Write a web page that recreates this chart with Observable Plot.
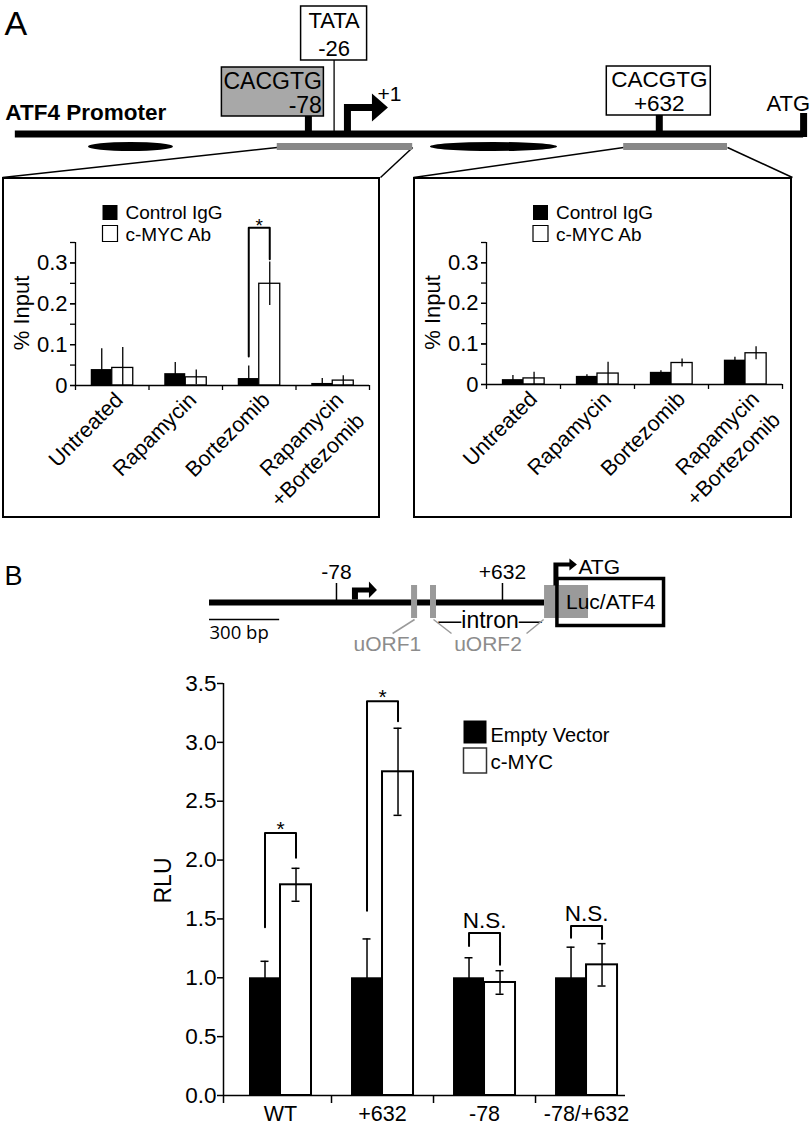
<!DOCTYPE html>
<html>
<head>
<meta charset="utf-8">
<script src="https://cdn.jsdelivr.net/npm/d3@7"></script>
<script src="https://cdn.jsdelivr.net/npm/@observablehq/plot@0.6"></script>
<style>
html, body { margin: 0; padding: 0; background: #fff; }
#fig { position: relative; width: 812px; height: 1127px; overflow: hidden; background: #fff;
       font-family: "Liberation Sans", Arial, Helvetica, sans-serif; }
.box { position: absolute; box-sizing: border-box; border: 2px solid #000; }
</style>
</head>
<body>
<div id="fig"></div>
<script>
// ======================= DATA =======================
// Panel A – ATF4 promoter schematic (bp relative to the TSS, +1)
const promoterStart = -671;
const promoterATG = 924;
const eboxSites = [-78, 632];            // CACGTG E-boxes
const eboxMotif = "CACGTG";
const tataSite = -26;
const tssSite = 1;
const nucleosomeStart = [-523, 169];
const nucleosomeEnd = [-351, 426];
const ampliconStart = [-141, 560];       // ChIP amplicons (grey bars)
const ampliconEnd = [133, 770];

// Panel A – ChIP (% input)
const chipTreatments = ["Untreated", "Rapamycin", "Bortezomib", "Rapamycin\n+Bortezomib"];
const chipSeries = ["Control IgG", "c-MYC Ab"];
// amplicon around the -78 E-box
const promIgG    = [0.039, 0.029, 0.017, 0.005];
const promIgGErr = [0.051, 0.027, 0.031, 0.012];
const promMyc    = [0.043, 0.020, 0.249, 0.012];
const promMycErr = [0.050, 0.018, 0.053, 0.012];
const promBracket = {group: 2, left: 0.071, top: 0.386, right: 0.309, label: "*"};
// amplicon around the +632 E-box
const intrIgG    = [0.012, 0.020, 0.030, 0.060];
const intrIgGErr = [0.010, 0.004, 0.004, 0.007];
const intrMyc    = [0.015, 0.027, 0.053, 0.077];
const intrMycErr = [0.015, 0.028, 0.010, 0.016];
const chipTickLabels = [0, 0.1, 0.2, 0.3];
const chipTicks = [0, 0.05, 0.1, 0.15, 0.2, 0.25, 0.3, 0.35];

// Panel B – reporter schematic (bp)
const reporterStart = -621;
const reporterSites = [-78, 632];
const reporterTSS = 1;
const uorfMarks = [256, 337];
const exonBlockStart = 812, exonBlockEnd = 1000;
const lucStart = 867, lucEnd = 1323;
const lucLabel = "Luc/ATF4";
const scaleBarBp = 300;
const uorfNames = ["uORF1", "uORF2"];
const uorfLabelAt = [140, 570];
const uorfLinkFrom = [256, 337, 808];
const uorfLinkTo = [162, 414, 735];
const intronLabelAt = 579;

// Panel B – luciferase (RLU)
const rluConstructs = ["WT", "+632", "-78", "-78/+632"];
const rluSeries = ["Empty Vector", "c-MYC"];
const rluEmpty    = [1.00, 1.00, 1.00, 1.00];
const rluEmptyErr = [0.14, 0.33, 0.17, 0.26];
const rluMyc      = [1.79, 2.75, 0.96, 1.11];
const rluMycErr   = [0.14, 0.37, 0.10, 0.18];
const rluBrackets = [
  {group: 0, left: 1.43, top: 2.23, right: 2.02, label: "*"},
  {group: 1, left: 1.57, top: 3.35, right: 3.18, label: "*"},
  {group: 2, left: 1.27, top: 1.38, right: 1.11, label: "N.S."},
  {group: 3, left: 1.34, top: 1.44, right: 1.33, label: "N.S."}
];
const rluTicks = [0, 0.5, 1, 1.5, 2, 2.5, 3, 3.5];

// ======================= HELPERS =======================
const W = 812;
const FONT = '"Liberation Sans", Arial, Helvetica, sans-serif';
const fig = document.getElementById("fig");
const svgStyle = fs => ({background: "transparent", overflow: "visible", fontFamily: FONT, fontSize: fs + "px"});
function put(node, left, top) {
  node.style.position = "absolute";
  node.style.left = left + "px";
  node.style.top = top + "px";
  fig.appendChild(node);
}
function drawBox(b) {
  const d = document.createElement("div");
  d.className = "box";
  d.style.width = b.width + "px";
  d.style.height = b.height + "px";
  put(d, b.left, b.top);
}
const shape = draw => ({draw});
const fmtPos = d => (d > 0 ? "+" + d : String(d));
const rectSym = (w, h) => shape(c => c.rect(-w / 2, -h / 2, w, h));

// ======================= PANEL A SCHEMATIC =======================
const xDomA = [-701, 942];
const xA = d3.scaleLinear(xDomA, [0, W]);
const HA = 180;
const lineA = 133.5;
const boxL = {left: 2, top: 177, width: 378, height: 341};
const boxR = {left: 413, top: 177, width: 379, height: 341};
const boxes = [boxL, boxR];
const zoomLinks = [];
ampliconStart.forEach((s, i) => {
  zoomLinks.push({x1: s, x2: xA.invert(boxes[i].left)});
  zoomLinks.push({x1: ampliconEnd[i], x2: xA.invert(boxes[i].left + boxes[i].width)});
});
const tssArrowA = shape(c => {
  c.moveTo(-3.5, 0); c.lineTo(-3.5, -27); c.lineTo(24.5, -27); c.lineTo(24.5, -37.5);
  c.lineTo(40.5, -23.5); c.lineTo(24.5, -9.5); c.lineTo(24.5, -20); c.lineTo(3.5, -20);
  c.lineTo(3.5, 0); c.closePath();
});

const diagA = Plot.plot({
  width: W, height: HA, margin: 0,
  x: {domain: xDomA, range: [0, W], axis: null},
  y: {domain: [0, HA], range: [0, HA], axis: null},
  style: svgStyle(22),
  marks: [
    Plot.text(["A"], {frameAnchor: "top-left", dx: 4, dy: 10, lineAnchor: "top", fontSize: 34}),
    Plot.text(["ATF4 Promoter"], {x: promoterStart, y: 119, dx: -10, textAnchor: "start", lineAnchor: "bottom", fontWeight: "bold", fontSize: 22.5}),
    Plot.link(zoomLinks, {x1: "x1", x2: "x2", y1: 147, y2: 177, strokeWidth: 1.5}),
    Plot.rect(d3.range(ampliconStart.length), {x1: i => ampliconStart[i], x2: i => ampliconEnd[i], y1: 143, y2: 150, fill: "#888888"}),
    Plot.rect(d3.range(nucleosomeStart.length), {x1: i => nucleosomeStart[i], x2: i => nucleosomeEnd[i], y1: 142, y2: 151, rx: 200, ry: 4.5, fill: "black"}),
    Plot.ruleY([lineA], {x1: promoterStart, x2: promoterATG, strokeWidth: 7}),
    Plot.ruleX([promoterATG], {y1: 113, y2: 137, strokeWidth: 7}),
    // TATA box
    Plot.ruleX([tataSite], {y1: 60, y2: 131, strokeWidth: 1.3}),
    Plot.rect([tataSite], {x1: d => d, x2: d => d, insetLeft: -33, insetRight: -33, y1: 6, y2: 60, fill: "white", stroke: "black", strokeWidth: 1.5}),
    Plot.text([tataSite], {x: d => d, y: 55, text: d => "TATA\n" + fmtPos(d), lineAnchor: "bottom", lineHeight: 1.23, fontSize: 22}),
    // E-box stems
    Plot.ruleX(eboxSites, {y1: 115, y2: 131, strokeWidth: 7}),
    // -78 E-box (grey)
    Plot.rect([eboxSites[0]], {x1: d => d, x2: d => d, insetLeft: -86.5, insetRight: -15.5, y1: 67, y2: 116, fill: "#a8a8a8", stroke: "black", strokeWidth: 1.5}),
    Plot.text([eboxSites[0]], {x: d => d, dx: 13.5, y: 112, text: d => eboxMotif + "\n" + fmtPos(d), textAnchor: "end", lineAnchor: "bottom", lineHeight: 1.04, fontSize: 23}),
    // +632 E-box (white)
    Plot.rect([eboxSites[1]], {x1: d => d, x2: d => d, insetLeft: -52.5, insetRight: -51.5, y1: 66, y2: 115, fill: "white", stroke: "black", strokeWidth: 1.5}),
    Plot.text([eboxSites[1]], {x: d => d, y: 110, text: d => eboxMotif + "\n" + fmtPos(d), lineAnchor: "bottom", lineHeight: 1.06, fontSize: 22.5}),
    // TSS arrow
    Plot.dot([tssSite], {x: d => d, y: 130.5, symbol: tssArrowA, fill: "black", stroke: "none"}),
    Plot.text([tssSite], {x: d => d, dx: 30, y: 100, text: d => fmtPos(d), textAnchor: "start", lineAnchor: "bottom", fontSize: 21}),
    Plot.text([promoterATG], {x: d => d, dx: 6.5, y: 110, text: () => "ATG", textAnchor: "end", lineAnchor: "bottom", fontSize: 22})
  ]
});
put(diagA, 0, 0);

// ======================= PANEL A CHIP CHARTS =======================
function chipChart(igg, iggErr, myc, mycErr, bracket, lay) {
  const idx = d3.range(chipTreatments.length);
  const bw = 21 / 73.5;             // bar width in group units
  const ppu = 143 / 0.35;           // pixels per % input
  const marks = [
    Plot.rectY(idx, {x1: i => i - bw, x2: i => i, y: i => igg[i], fill: "black"}),
    Plot.rectY(idx, {x1: i => i, x2: i => i + bw, y: i => myc[i], fill: "white", stroke: "black", strokeWidth: 1.3}),
    Plot.ruleX(idx, {x: i => i - bw / 2, y1: i => Math.max(0, igg[i] - iggErr[i]), y2: i => igg[i] + iggErr[i], strokeWidth: 1.3}),
    Plot.ruleX(idx, {x: i => i + bw / 2, y1: i => Math.max(0, myc[i] - mycErr[i]), y2: i => myc[i] + mycErr[i], strokeWidth: 1.3}),
    Plot.ruleX([-0.5], {strokeWidth: 1.3}),
    Plot.ruleY([0], {strokeWidth: 1.3}),
    Plot.ruleX([-0.5, 0.5, 1.5, 2.5, 3.5], {y1: 0, y2: -5 / ppu, strokeWidth: 1.3}),
    Plot.axisY({ticks: chipTicks, tickSize: 5, tickFormat: () => "", label: null, strokeWidth: 1.3}),
    Plot.axisY({ticks: chipTickLabels, tickSize: 5, tickPadding: 3, tickFormat: d => (d === 0 ? "0" : d.toFixed(1)), label: null, fontSize: 22, strokeWidth: 1.3}),
    Plot.text(["% Input"], {frameAnchor: "left", rotate: -90, textAnchor: "middle", dx: -54, dy: -1, fontSize: 22}),
    Plot.text(idx, {x: i => i, y: 0, text: i => chipTreatments[i], rotate: -45, textAnchor: "end", lineAnchor: "top", lineHeight: 1.38, fontSize: 21.5, dx: lay.labelDx, dy: 1}),
    // legend
    Plot.dot([0], {frameAnchor: "top-left", dx: lay.legDx, dy: -30, symbol: rectSym(15, 15), fill: "black", stroke: "none"}),
    Plot.dot([0], {frameAnchor: "top-left", dx: lay.legDx, dy: -9, symbol: rectSym(15, 16), fill: "white", stroke: "black", strokeWidth: 1.2}),
    Plot.text([chipSeries[0]], {frameAnchor: "top-left", dx: lay.legDx + 15.5, dy: -24, textAnchor: "start", lineAnchor: "bottom", fontSize: 19}),
    Plot.text([chipSeries[1]], {frameAnchor: "top-left", dx: lay.legDx + 15.5, dy: -2, textAnchor: "start", lineAnchor: "bottom", fontSize: 19})
  ];
  if (bracket) {
    const g = bracket.group;
    const pts = [[g - bw / 2, bracket.left], [g - bw / 2, bracket.top], [g + bw / 2, bracket.top], [g + bw / 2, bracket.right]];
    marks.push(Plot.line(pts, {x: d => d[0], y: d => d[1], strokeWidth: 2}));
    marks.push(Plot.text([bracket], {x: d => d.group, y: d => d.top, text: d => d.label, lineAnchor: "bottom", dy: 4, fontSize: 19}));
  }
  return Plot.plot({
    width: lay.width, height: lay.height,
    marginLeft: 73, marginRight: lay.marginRight, marginTop: 65, marginBottom: lay.marginBottom,
    x: {domain: [-0.5, 3.5], axis: null},
    y: {domain: [0, 0.35]},
    style: svgStyle(21),
    marks
  });
}
drawBox(boxL);
put(chipChart(promIgG, promIgGErr, promMyc, promMycErr, promBracket,
  {width: boxL.width, height: boxL.height, marginRight: 11, marginBottom: 133, labelDx: -3, legDx: 34.5}), boxL.left, boxL.top);
drawBox(boxR);
put(chipChart(intrIgG, intrIgGErr, intrMyc, intrMycErr, null,
  {width: boxR.width, height: boxR.height, marginRight: 10, marginBottom: 134, labelDx: 0, legDx: 54}), boxR.left, boxR.top);

// ======================= PANEL B SCHEMATIC =======================
const xDomB = [-1515, 1958];
const HB = 130;
const lineB = 62;
const tssArrowB = shape(c => {
  c.moveTo(-3, 0); c.lineTo(-3, -12); c.lineTo(14, -12); c.lineTo(14, -18);
  c.lineTo(22, -9.5); c.lineTo(14, -1.5); c.lineTo(14, -7); c.lineTo(3, -7);
  c.lineTo(3, 0); c.closePath();
});
const atgArrowB = shape(c => {
  c.moveTo(-4, 0); c.lineTo(-4, -23); c.lineTo(12, -23); c.lineTo(12, -27);
  c.lineTo(19.5, -21); c.lineTo(12, -15); c.lineTo(12, -19); c.lineTo(1, -19);
  c.lineTo(1, 0); c.closePath();
});
const grey = "#9a9a9a";
const diagB = Plot.plot({
  width: W, height: HB, margin: 0,
  x: {domain: xDomB, range: [0, W], axis: null},
  y: {domain: [0, HB], range: [0, HB], axis: null},
  style: svgStyle(21),
  marks: [
    Plot.text(["B"], {frameAnchor: "top-left", dx: 4, dy: 25, lineAnchor: "top", fontSize: 27}),
    Plot.ruleY([lineB], {x1: reporterStart, x2: exonBlockStart, strokeWidth: 6}),
    Plot.ruleX(reporterSites, {y1: 43, y2: 60, strokeWidth: 1.5}),
    Plot.text(reporterSites, {x: d => d, y: 38, text: fmtPos, lineAnchor: "bottom", fontSize: 21}),
    Plot.dot([reporterTSS], {x: d => d, y: 59, symbol: tssArrowB, fill: "black", stroke: "none"}),
    Plot.rect(uorfMarks, {x1: d => d, x2: d => d, insetLeft: -3, insetRight: -3, y1: 45, y2: 78, fill: grey}),
    Plot.rect([[exonBlockStart, exonBlockEnd]], {x1: d => d[0], x2: d => d[1], y1: 45, y2: 78, fill: grey}),
    Plot.rect([[lucStart, lucEnd]], {x1: d => d[0], x2: d => d[1], y1: 38.5, y2: 85.5, fill: "none", stroke: "black", strokeWidth: 3.5}),
    Plot.text([lucLabel], {x: (lucStart + lucEnd) / 2, y: 68, lineAnchor: "bottom", fontSize: 21}),
    Plot.dot([lucStart], {x: d => d, y: 45, symbol: atgArrowB, fill: "black", stroke: "none"}),
    Plot.text(["ATG"], {x: lucStart, dx: 21, y: 33, textAnchor: "start", lineAnchor: "bottom", fontSize: 21}),
    Plot.ruleY([79], {x1: reporterStart, x2: reporterStart + scaleBarBp, strokeWidth: 1.5}),
    Plot.text([scaleBarBp + " bp"], {x: reporterStart, y: 98, textAnchor: "start", lineAnchor: "bottom", fontSize: 18.5, fontFamily: '"Open Sans", ' + FONT}),
    Plot.text(["\u2014intron\u2014"], {x: intronLabelAt, y: 87, lineAnchor: "bottom", fontSize: 23}),
    Plot.link(d3.range(uorfLinkFrom.length), {x1: i => uorfLinkFrom[i], x2: i => uorfLinkTo[i], y1: 79, y2: 93, stroke: grey, strokeWidth: 1.5}),
    Plot.text(d3.range(uorfNames.length), {x: i => uorfLabelAt[i], y: 110, text: i => uorfNames[i], lineAnchor: "bottom", fill: "#8c8c8c", fontSize: 21})
  ]
});
put(diagB, 0, 540);

// ======================= PANEL B RLU CHART =======================
(function () {
  const idx = d3.range(rluConstructs.length);
  const bw = 31 / 102;
  const cap = 4 / 102;
  const ppu = 412 / 3.5;
  const xMin = -0.5588;
  const bPts = [];
  rluBrackets.forEach((b, k) => {
    const g = b.group;
    bPts.push({k, x: g - bw / 2, y: b.left}, {k, x: g - bw / 2, y: b.top}, {k, x: g + bw / 2, y: b.top}, {k, x: g + bw / 2, y: b.right});
  });
  const chart = Plot.plot({
    width: 500, height: 467,
    marginLeft: 83, marginRight: 15, marginTop: 23, marginBottom: 32,
    x: {domain: [xMin, 3.382]},
    y: {domain: [0, 3.5]},
    style: svgStyle(21),
    marks: [
      Plot.rectY(idx, {x1: i => i - bw, x2: i => i, y: i => rluEmpty[i], fill: "black"}),
      Plot.rectY(idx, {x1: i => i, x2: i => i + bw, y: i => rluMyc[i], fill: "white", stroke: "black", strokeWidth: 2}),
      Plot.ruleX(idx, {x: i => i - bw / 2, y1: i => rluEmpty[i] - rluEmptyErr[i], y2: i => rluEmpty[i] + rluEmptyErr[i], strokeWidth: 1.5}),
      Plot.ruleY(idx, {x1: i => i - bw / 2 - cap, x2: i => i - bw / 2 + cap, y: i => rluEmpty[i] + rluEmptyErr[i], strokeWidth: 1.5}),
      Plot.ruleX(idx, {x: i => i + bw / 2, y1: i => rluMyc[i] - rluMycErr[i], y2: i => rluMyc[i] + rluMycErr[i], strokeWidth: 1.5}),
      Plot.ruleY(idx, {x1: i => i + bw / 2 - cap, x2: i => i + bw / 2 + cap, y: i => rluMyc[i] + rluMycErr[i], strokeWidth: 1.5}),
      Plot.ruleY(idx, {x1: i => i + bw / 2 - cap, x2: i => i + bw / 2 + cap, y: i => rluMyc[i] - rluMycErr[i], strokeWidth: 1.5}),
      Plot.line(bPts, {x: "x", y: "y", z: "k", strokeWidth: 2}),
      Plot.text(rluBrackets, {x: "group", y: "top", text: "label", lineAnchor: "bottom", fontSize: 22.5, filter: d => d.label !== "*", dy: -5}),
      Plot.text(rluBrackets, {x: "group", y: "top", text: "label", lineAnchor: "bottom", fontSize: 21, filter: d => d.label === "*", dy: 3}),
      Plot.ruleX([xMin], {strokeWidth: 1.5}),
      Plot.ruleY([0], {strokeWidth: 1.5}),
      Plot.ruleX([xMin, 0.5, 1.5, 2.5], {y1: 0, y2: -8 / ppu, strokeWidth: 1.5}),
      Plot.axisY({ticks: rluTicks, tickSize: 6, tickPadding: 1, tickFormat: d => d.toFixed(1), label: null, fontSize: 22.5, strokeWidth: 1.5}),
      Plot.axisX({ticks: idx, tickSize: 0, tickPadding: 10, tickFormat: i => rluConstructs[i], label: null, fontSize: 21.5}),
      Plot.text(["RLU"], {frameAnchor: "left", rotate: -90, textAnchor: "middle", dx: -60, dy: -9, fontSize: 23}),
      // legend
      Plot.dot([0], {frameAnchor: "top-left", dx: 251.5, dy: 48.5, symbol: rectSym(23, 23), fill: "black", stroke: "none"}),
      Plot.dot([0], {frameAnchor: "top-left", dx: 251.5, dy: 77, symbol: rectSym(23, 25), fill: "white", stroke: "#333", strokeWidth: 1.5}),
      Plot.text([rluSeries[0]], {frameAnchor: "top-left", dx: 267, dy: 58, textAnchor: "start", lineAnchor: "bottom", fontSize: 20}),
      Plot.text([rluSeries[1]], {frameAnchor: "top-left", dx: 267, dy: 85, textAnchor: "start", lineAnchor: "bottom", fontSize: 20.5})
    ]
  });
  put(chart, 140, 660);
})();
</script>
</body>
</html>
